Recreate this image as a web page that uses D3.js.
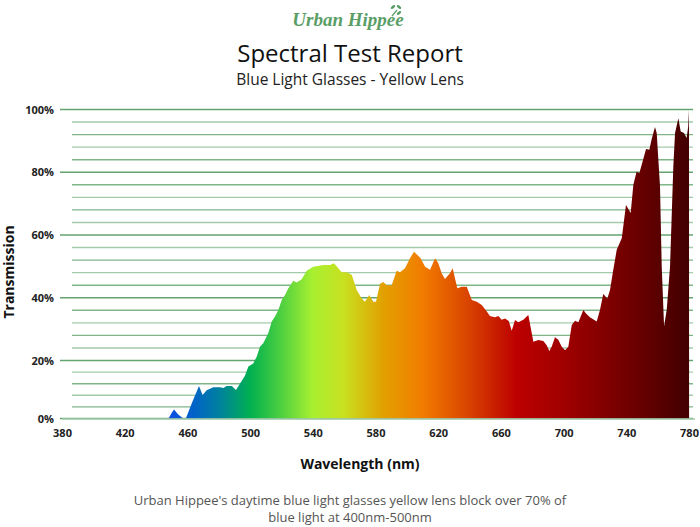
<!DOCTYPE html>
<html>
<head>
<meta charset="utf-8">
<script src="https://cdn.jsdelivr.net/npm/d3@7"></script>
<style>
  html, body { margin: 0; padding: 0; background: #fff; }
  svg { display: block; font-family: "Open Sans", "Noto Sans", sans-serif; }
</style>
</head>
<body>
<svg id="chart" width="700" height="527"></svg>
<script>
// ---- data ----
const wavelengths = [448,450,451.5,454,457.3,459,463,467.4,469.7,472.3,476.5,480.8,483,485,488.3,491,493.6,496.7,498.9,502,504.2,506.3,508.4,511.6,513.8,515.9,518,520.2,522.3,524.4,527.6,529.7,532.9,536.1,540.3,546.7,551,553.5,556.3,558.4,561.6,564.8,568,571.2,573.3,576,578.6,580.3,582.9,585,587.1,590.3,593.5,595.6,598.8,602,604.6,606.7,608.8,611.6,614.8,618,620.1,622.2,624.3,627.5,629.2,632.2,635,638.2,641.4,644.6,647.8,651,653,656.2,658.4,660.5,662.6,665,666.9,669,671.1,674.3,677.5,680.7,683.9,687.1,689.2,690.9,692.4,694.5,696.6,698.8,700.9,703,705.2,707.3,709.4,712.6,714.3,716.8,721.1,723.2,725.3,727.9,729.6,731.7,733.9,737.1,739.8,742.8,744.5,746.6,748.3,750.4,752.6,754.7,756.2,758.3,759.4,761.5,762.6,764.1,765.8,767.9,770,771.1,773.2,774.7,776.8,778.5,779.5,780,780.05];
const transmission = [0,2.0,3.1,1.5,0,0,5.5,11.2,8.1,9.7,10.8,10.8,10.5,11.2,11.2,9.8,12.1,14.7,17.9,19,21.2,24.4,25.5,28.7,32.4,34,36.1,39.3,40.9,43,45.4,44.9,45.9,48.6,49.9,50.4,50.4,51,49.4,48.1,48.1,47.3,42.5,39.8,38.7,40.9,38.7,38.7,44.5,45,44,44,48.6,48.1,49.4,52.6,54.7,53.6,52.6,49.9,48.9,52.6,51,47.8,46,47.8,49.4,43,43.5,43.5,39.3,38.7,37.7,35.6,34.2,33.8,34.2,33,33.4,32.6,29.5,32.9,32.2,33,34.5,26,26.5,26.2,24.9,23,24.4,27.4,26.6,24.4,23.3,24.4,31.3,32.7,32.2,36.1,35,33.8,32.4,36.1,41.2,39.8,42.5,48.9,55.3,59,69.6,67,76,80.2,79.7,83.4,87.4,87.2,90.6,94.4,92.5,75.5,50,30.9,36.2,50,81.8,92.5,97.2,93,92.5,90.9,94.6,99.9,0];

const xTicks = [380,420,460,500,540,580,620,660,700,740,780];
const yMajorTicks = [0,20,40,60,80,100];
const yGridValues = d3.range(0, 101, 4);

const gradientWavelengths = [450,465,480,500,520,540,560,585,610,640,670,700,740,780];
const gradientColors = ["#0a4fe0","#0064c6","#0080a0","#00b050","#4fd040","#a8f030","#c8e020","#e2a000","#f27c00","#d84200","#bc0000","#a00000","#720000","#420000"];

const titleText = "Spectral Test Report";
const subtitleText = "Blue Light Glasses - Yellow Lens";
const footerLines = ["Urban Hippee's daytime blue light glasses yellow lens block over 70% of", "blue light at 400nm-500nm"];

// ---- layout ----
const svg = d3.select("#chart");
svg.append("rect").attr("width", 700).attr("height", 527).attr("fill", "#fff");

const x = d3.scaleLinear().domain([380, 780]).range([62, 689]);
const y = d3.scaleLinear().domain([0, 20, 100]).range([418.5, 360.5, 109.5]);

// logo
const logo = svg.append("g");
logo.append("text")
  .attr("x", 348).attr("y", 26)
  .attr("text-anchor", "middle")
  .attr("font-family", "'Liberation Serif', 'DejaVu Serif', serif")
  .attr("font-style", "italic").attr("font-weight", "bold")
  .attr("font-size", 19).attr("fill", "#5a9e66")
  .text("Urban Hippee");
const leaf = logo.append("g").attr("transform", "translate(396,10)").attr("fill", "#5a9e66");
leaf.append("ellipse").attr("cx", -3).attr("cy", -3).attr("rx", 2.6).attr("ry", 1.4).attr("transform", "rotate(-40,-3,-3)");
leaf.append("ellipse").attr("cx", 3).attr("cy", -3).attr("rx", 2.6).attr("ry", 1.4).attr("transform", "rotate(40,3,-3)");
leaf.append("ellipse").attr("cx", 3).attr("cy", 3).attr("rx", 2.6).attr("ry", 1.4).attr("transform", "rotate(-40,3,3)");
leaf.append("line").attr("x1", -4).attr("y1", 6).attr("x2", 1).attr("y2", 0).attr("stroke", "#5a9e66").attr("stroke-width", 1.2);

// titles
svg.append("text").attr("x", 350).attr("y", 62).attr("text-anchor", "middle")
  .attr("font-size", 24).attr("fill", "#111").text(titleText);
svg.append("text").attr("x", 350).attr("y", 84.5).attr("text-anchor", "middle")
  .attr("font-size", 15.5).attr("fill", "#222").text(subtitleText);

// gridlines
const grid = svg.append("g");
grid.selectAll("line").data(yGridValues).join("line")
  .attr("x1", d => yMajorTicks.includes(d) ? 60 : 72)
  .attr("x2", 693)
  .attr("y1", d => y(d)).attr("y2", d => y(d))
  .attr("stroke", (d, i) => yMajorTicks.includes(d) ? "#64a46e" : (i % 2 ? "#7fb688" : "#a2cbaa"))
  .attr("stroke-width", 1.4);

// gradient
const defs = svg.append("defs");
const x1 = x(gradientWavelengths[0]), x2 = x(gradientWavelengths[gradientWavelengths.length - 1]);
const grad = defs.append("linearGradient").attr("id", "spec")
  .attr("gradientUnits", "userSpaceOnUse")
  .attr("x1", x1).attr("x2", x2).attr("y1", 0).attr("y2", 0);
grad.selectAll("stop").data(gradientWavelengths).join("stop")
  .attr("offset", d => (x(d) - x1) / (x2 - x1))
  .attr("stop-color", (d, i) => gradientColors[i]);

// area
const pts = wavelengths.map((w, i) => [w, transmission[i]]);
const area = d3.area().x(d => x(d[0])).y0(y(0)).y1(d => y(d[1])).curve(d3.curveLinear);
svg.append("path").datum(pts).attr("d", area).attr("fill", "url(#spec)");

// x baseline
svg.append("line").attr("x1", 62).attr("x2", 695).attr("y1", y(0) + 0.5).attr("y2", y(0) + 0.5)
  .attr("stroke", "#a6cdb0").attr("stroke-width", 1.6);

// y tick labels
svg.append("g").selectAll("text").data(yMajorTicks).join("text")
  .attr("x", 54).attr("y", d => y(d) + 4)
  .attr("text-anchor", "end").attr("font-size", 11).attr("font-weight", "bold").attr("fill", "#222")
  .text(d => d + "%");

// x axis ticks
const xAxis = d3.axisBottom(x).tickValues(xTicks).tickSize(0).tickPadding(0);
const xg = svg.append("g").attr("transform", "translate(0,429)").call(xAxis);
xg.select(".domain").remove();
xg.selectAll("text").attr("font-size", 11).attr("font-weight", "bold").attr("fill", "#222")
  .attr("font-family", "'Open Sans', sans-serif").attr("dy", "0.71em");

// axis titles
svg.append("text").attr("x", 360).attr("y", 469).attr("text-anchor", "middle")
  .attr("font-size", 14).attr("font-weight", "bold").attr("fill", "#111").text("Wavelength (nm)");
svg.append("text").attr("transform", "translate(14,272) rotate(-90)").attr("text-anchor", "middle")
  .attr("font-size", 14).attr("font-weight", "bold").attr("fill", "#111").text("Transmission");

// footer
svg.append("g").selectAll("text").data(footerLines).join("text")
  .attr("x", 350).attr("y", (d, i) => 505 + i * 17)
  .attr("text-anchor", "middle").attr("font-size", 13).attr("fill", "#555").text(d => d);
</script>
</body>
</html>
